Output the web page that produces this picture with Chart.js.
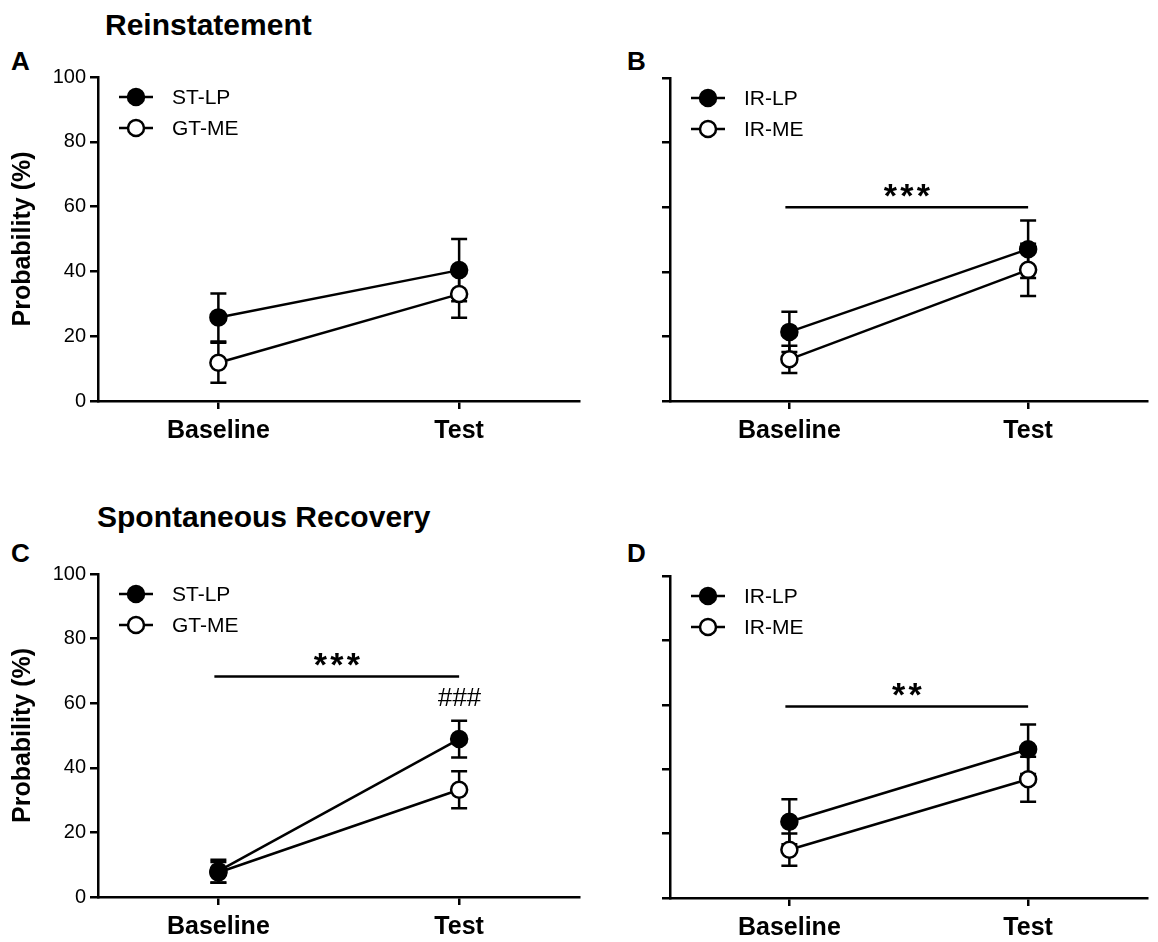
<!DOCTYPE html>
<html>
<head>
<meta charset="utf-8">
<script src="https://cdn.jsdelivr.net/npm/chart.js@4.4.1/dist/chart.umd.min.js"></script>
<style>
  body { margin: 0; background: #fff; }
  #page { position: relative; width: 1158px; height: 942px; overflow: hidden; font-family: 'Liberation Sans', Arial, sans-serif; color: #000; }
  canvas { position: absolute; }
  .lbl { position: absolute; font-weight: bold; line-height: 1; white-space: nowrap; }
</style>
</head>
<body>
<div id="page">
  <div class="lbl" style="left:105px; top:10px; font-size:30px;">Reinstatement</div>
  <div class="lbl" style="left:97px; top:502px; font-size:30px;">Spontaneous Recovery</div>
  <div class="lbl" style="left:11px; top:48px; font-size:26px;">A</div>
  <div class="lbl" style="left:627px; top:48px; font-size:26px;">B</div>
  <div class="lbl" style="left:11px; top:540px; font-size:26px;">C</div>
  <div class="lbl" style="left:627px; top:540px; font-size:26px;">D</div>
  <canvas id="chartA"></canvas>
  <canvas id="chartB"></canvas>
  <canvas id="chartC"></canvas>
  <canvas id="chartD"></canvas>
</div>
<script>
// --- dados ---
const fases = ['Baseline', 'Test'];
const yTicks = [0, 20, 40, 60, 80, 100];

// Reinstatement
const reinstSTLP = [25.8, 40.4];
const reinstSTLPErr = [7.4, 9.6];
const reinstGTME = [11.8, 33.0];
const reinstGTMEErr = [6.2, 7.3];
const reinstIRLP = [21.4, 47.0];
const reinstIRLPErr = [6.2, 8.9];
const reinstIRME = [12.9, 40.6];
const reinstIRMEErr = [4.2, 8.1];

// Spontaneous Recovery
const spontSTLP = [8.0, 48.9];
const spontSTLPErr = [3.5, 5.7];
const spontGTME = [7.6, 33.2];
const spontGTMEErr = [3.2, 5.7];
const spontIRLP = [23.7, 46.2];
const spontIRLPErr = [7.0, 7.7];
const spontIRME = [15.0, 36.9];
const spontIRMEErr = [5.0, 7.0];

// legendas e marcas de significancia
const legendaGT = ['ST-LP', 'GT-ME'];
const legendaIR = ['IR-LP', 'IR-ME'];
const sigB = { y: 60, text: '***' };
const sigC = { y: 68.3, text: '***' };
const sigD = { y: 59.5, text: '**' };
const hashC = { y: 61.5, text: '###', index: 1 };

const FONT = "'Liberation Sans', Arial, sans-serif";
const XH = 40; // altura do eixo x

// barras de erro (SEM), desenhadas antes dos pontos
const errorBars = {
  id: 'errorBars',
  beforeDatasetsDraw(chart) {
    const ctx = chart.ctx;
    const y = chart.scales.y;
    ctx.save();
    ctx.strokeStyle = '#000';
    ctx.lineWidth = 2.5;
    chart.data.datasets.forEach((ds, di) => {
      const meta = chart.getDatasetMeta(di);
      meta.data.forEach((pt, i) => {
        const v = ds.data[i], e = ds.errors[i];
        const yt = y.getPixelForValue(v + e);
        const yb = y.getPixelForValue(v - e);
        ctx.beginPath();
        ctx.moveTo(pt.x, yt); ctx.lineTo(pt.x, yb);
        ctx.moveTo(pt.x - 8, yt); ctx.lineTo(pt.x + 8, yt);
        ctx.moveTo(pt.x - 8, yb); ctx.lineTo(pt.x + 8, yb);
        ctx.stroke();
      });
    });
    ctx.restore();
  }
};

// legenda estilo GraphPad + asteriscos
const notas = {
  id: 'notas',
  afterDraw(chart, args, opts) {
    const ctx = chart.ctx;
    const area = chart.chartArea;
    const x = chart.scales.x, y = chart.scales.y;
    ctx.save();
    ctx.fillStyle = '#000';
    ctx.strokeStyle = '#000';
    ctx.lineWidth = 2.5;

    // legenda
    chart.data.datasets.forEach((ds, i) => {
      const cx = area.left + 38;
      const cy = area.top + 20 + i * 31;
      ctx.beginPath();
      ctx.moveTo(cx - 17, cy); ctx.lineTo(cx + 17, cy);
      ctx.stroke();
      ctx.beginPath();
      ctx.arc(cx, cy, 8, 0, Math.PI * 2);
      ctx.fillStyle = ds.pointBackgroundColor;
      ctx.fill();
      ctx.stroke();
      ctx.fillStyle = '#000';
      ctx.font = '21px ' + FONT;
      ctx.textBaseline = 'middle';
      ctx.textAlign = 'left';
      ctx.fillText(ds.label, cx + 36, cy + 1);
    });

    // barra de significancia
    if (opts.sig) {
      const x0 = x.getPixelForValue(0) - 4;
      const x1 = x.getPixelForValue(1);
      const yy = y.getPixelForValue(opts.sig.y);
      ctx.beginPath();
      ctx.moveTo(x0, yy); ctx.lineTo(x1, yy);
      ctx.stroke();
      const n = opts.sig.text.length;
      const mid = (x0 + x1) / 2;
      ctx.font = 'bold 34px ' + FONT;
      ctx.textAlign = 'center';
      ctx.textBaseline = 'alphabetic';
      for (let k = 0; k < n; k++) {
        ctx.fillText(opts.sig.text[k], mid + (k - (n - 1) / 2) * 16.5, yy);
      }
    }
    if (opts.hash) {
      ctx.font = 'italic 26px ' + FONT;
      ctx.textAlign = 'center';
      ctx.textBaseline = 'middle';
      ctx.fillText(opts.hash.text, x.getPixelForValue(opts.hash.index), y.getPixelForValue(opts.hash.y));
    }
    ctx.restore();
  }
};

function serie(label, data, errors, cheio) {
  return {
    label: label,
    data: data,
    errors: errors,
    borderColor: '#000',
    backgroundColor: cheio ? '#000' : '#fff',
    borderWidth: 2.5,
    pointBackgroundColor: cheio ? '#000' : '#fff',
    pointBorderColor: '#000',
    pointBorderWidth: 2.5,
    pointRadius: 8,
    tension: 0,
    clip: false
  };
}

// box = posicao do canvas na pagina, area = area do grafico na pagina
function painel(id, box, area, datasets, comRotulos, extras) {
  const cv = document.getElementById(id);
  cv.width = box.w; cv.height = box.h;
  cv.style.left = box.x + 'px'; cv.style.top = box.y + 'px';
  const yW = area.l - box.x;
  return new Chart(cv, {
    type: 'line',
    data: { labels: fases, datasets: datasets },
    options: {
      responsive: false,
      animation: false,
      events: [],
      layout: {
        padding: { left: 0, top: area.t - box.y, right: box.x + box.w - area.r, bottom: box.y + box.h - area.b - XH }
      },
      plugins: {
        legend: { display: false },
        tooltip: { enabled: false },
        notas: extras || {}
      },
      scales: {
        x: {
          type: 'category',
          offset: true,
          grid: { drawOnChartArea: false, drawTicks: true, tickLength: 8, color: '#000', lineWidth: 2.5 },
          border: { color: '#000', width: 2.5 },
          ticks: { color: '#000', font: { family: FONT, size: 25, weight: 'bold' }, padding: 7, maxRotation: 0 },
          afterFit: s => { s.height = XH; }
        },
        y: {
          min: 0, max: 100,
          afterBuildTicks: s => { s.ticks = yTicks.map(v => ({ value: v })); },
          grid: { drawOnChartArea: false, drawTicks: true, tickLength: 8, color: '#000', lineWidth: 2.5 },
          border: { color: '#000', width: 2.5 },
          ticks: { display: comRotulos, color: '#000', font: { family: FONT, size: 20 }, padding: 4 },
          title: { display: comRotulos, text: 'Probability (%)', color: '#000', font: { family: FONT, size: 25, weight: 'bold' }, padding: { top: 8, bottom: 0 } },
          afterFit: s => { s.width = yW; }
        }
      }
    },
    plugins: [errorBars, notas]
  });
}

painel('chartA', { x: 0, y: 50, w: 590, h: 420 }, { l: 98, t: 77, r: 583, b: 401 },
  [serie(legendaGT[0], reinstSTLP, reinstSTLPErr, true), serie(legendaGT[1], reinstGTME, reinstGTMEErr, false)], true);

painel('chartB', { x: 590, y: 50, w: 568, h: 420 }, { l: 670, t: 78, r: 1158, b: 401 },
  [serie(legendaIR[0], reinstIRLP, reinstIRLPErr, true), serie(legendaIR[1], reinstIRME, reinstIRMEErr, false)], false,
  { sig: sigB });

painel('chartC', { x: 0, y: 545, w: 590, h: 397 }, { l: 98, t: 574, r: 583, b: 897 },
  [serie(legendaGT[0], spontSTLP, spontSTLPErr, true), serie(legendaGT[1], spontGTME, spontGTMEErr, false)], true,
  { sig: sigC, hash: hashC });

painel('chartD', { x: 590, y: 545, w: 568, h: 397 }, { l: 670, t: 576, r: 1158, b: 898 },
  [serie(legendaIR[0], spontIRLP, spontIRLPErr, true), serie(legendaIR[1], spontIRME, spontIRMEErr, false)], false,
  { sig: sigD });
</script>
</body>
</html>
